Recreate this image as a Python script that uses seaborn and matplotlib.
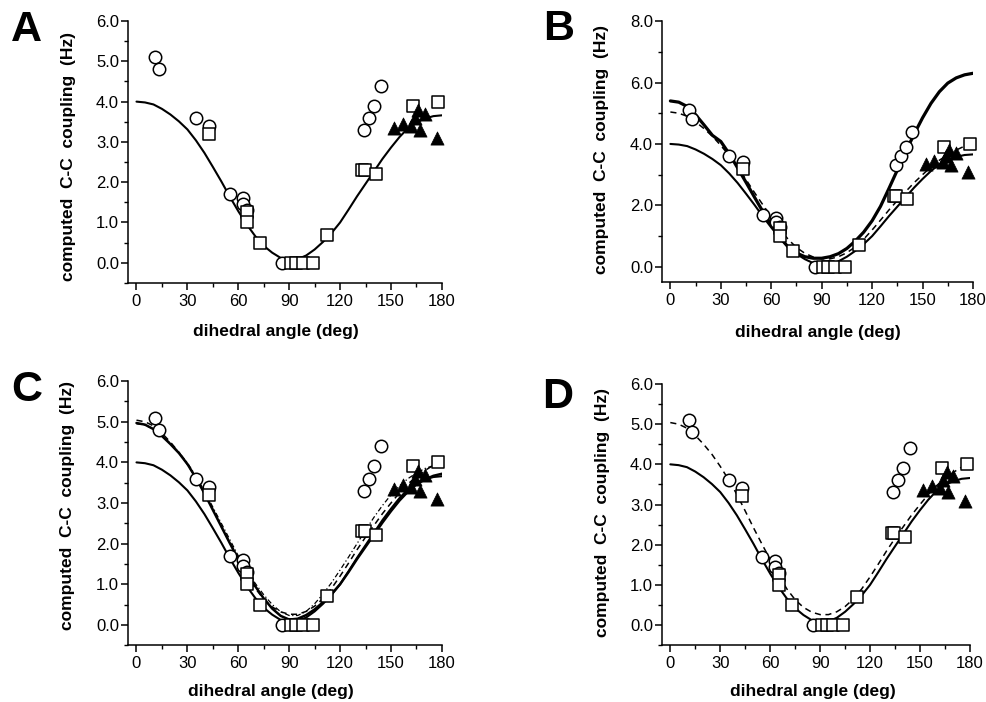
import matplotlib
matplotlib.use("Agg")
import matplotlib.pyplot as plt
import seaborn as sns
from matplotlib.ticker import MultipleLocator, FormatStrFormatter

# fitted curves, every 5 deg
angle_grid = list(range(0, 181, 5))
standard_fit = [4.00, 3.98, 3.93, 3.82, 3.68, 3.51, 3.31, 3.04, 2.73, 2.38, 2.02, 1.64, 1.28, 0.95,
                0.66, 0.42, 0.25, 0.12, 0.07, 0.09, 0.18, 0.33, 0.52, 0.74, 1.00, 1.32, 1.65, 1.96,
                2.27, 2.58, 2.86, 3.12, 3.34, 3.49, 3.58, 3.64, 3.66]
dashed_fit = [5.04, 5.00, 4.90, 4.72, 4.50, 4.25, 3.95, 3.62, 3.25, 2.84, 2.42, 2.02, 1.63, 1.25,
              0.90, 0.63, 0.44, 0.32, 0.26, 0.26, 0.33, 0.46, 0.65, 0.90, 1.20, 1.52, 1.85, 2.16,
              2.45, 2.74, 3.00, 3.25, 3.47, 3.65, 3.80, 3.93, 4.02]
thick_fit_b = [5.40, 5.36, 5.22, 4.95, 4.62, 4.28, 4.08, 3.68, 3.22, 2.75, 2.27, 1.80, 1.36, 0.96,
               0.65, 0.45, 0.33, 0.28, 0.28, 0.33, 0.43, 0.60, 0.84, 1.13, 1.50, 1.97, 2.55, 3.15,
               3.75, 4.32, 4.85, 5.32, 5.70, 5.98, 6.15, 6.25, 6.30]
solid_fit_c = [4.97, 4.93, 4.82, 4.65, 4.45, 4.23, 3.96, 3.62, 3.24, 2.83, 2.42, 2.01, 1.62, 1.28,
               0.95, 0.65, 0.40, 0.22, 0.13, 0.15, 0.24, 0.38, 0.56, 0.76, 1.00, 1.30, 1.62, 1.92,
               2.22, 2.52, 2.80, 3.06, 3.28, 3.46, 3.58, 3.67, 3.72]
dotted_fit_c = [4.95, 4.92, 4.82, 4.66, 4.47, 4.25, 3.99, 3.66, 3.30, 2.90, 2.50, 2.10, 1.70, 1.35,
                1.02, 0.74, 0.50, 0.32, 0.23, 0.23, 0.33, 0.52, 0.76, 1.04, 1.35, 1.67, 2.00, 2.33,
                2.65, 2.94, 3.20, 3.42, 3.60, 3.74, 3.85, 3.92, 3.95]

# computed couplings
circle_angle = [11, 13, 35, 43, 55, 63, 63, 65, 86, 134, 137, 140, 144]
circle_j = [5.1, 4.8, 3.6, 3.4, 1.7, 1.6, 1.45, 1.3, 0.0, 3.3, 3.6, 3.9, 4.4]
square_angle = [43, 65, 65, 73, 91, 94, 98, 104, 112, 133, 134.5, 141, 163, 178]
square_j = [3.2, 1.25, 1.0, 0.5, 0.0, 0.0, 0.0, 0.0, 0.7, 2.3, 2.3, 2.2, 3.9, 4.0]
triangle_angle = [152, 157, 162, 164, 166, 167, 170, 177]
triangle_j = [3.35, 3.45, 3.4, 3.6, 3.8, 3.3, 3.7, 3.1]

sns.set_style("ticks")
plt.rcParams['font.family'] = ['Liberation Sans', 'DejaVu Sans']
plt.rcParams.update({'axes.linewidth': 1.1, 'axes.edgecolor': 'black', 'text.color': 'black',
                     'axes.labelcolor': 'black', 'xtick.color': 'black', 'ytick.color': 'black'})

fig = plt.figure(figsize=(9.87, 7.02), dpi=100)

panels = {
    'A': dict(rect=[0.1297, 0.597, 0.318, 0.373], ymax=6, ystep=1,
              xl=(0.47, -0.156), yl=(-0.166, 0.483), letter=(0.027, 0.957)),
    'B': dict(rect=[0.6707, 0.598, 0.3151, 0.372], ymax=8, ystep=2,
              xl=(0.50, -0.165), yl=(-0.17, 0.51), letter=(0.566, 0.959)),
    'C': dict(rect=[0.1297, 0.081, 0.318, 0.376], ymax=6, ystep=1,
              xl=(0.455, -0.147), yl=(-0.169, 0.53), letter=(0.027, 0.444)),
    'D': dict(rect=[0.6707, 0.081, 0.312, 0.372], ymax=6, ystep=1,
              xl=(0.489, -0.149), yl=(-0.17, 0.506), letter=(0.565, 0.434)),
}

curves = {
    'A': [(standard_fit, '-', 1.5)],
    'B': [(standard_fit, '-', 1.5), (dashed_fit, (0, (4, 3)), 1.1), (thick_fit_b, '-', 2.3)],
    'C': [(standard_fit, '-', 1.5), (dotted_fit_c, (0, (4, 2, 1, 2)), 0.9),
          (dashed_fit, (0, (4, 3)), 1.1), (solid_fit_c, '-', 1.8)],
    'D': [(standard_fit, '-', 1.5), (dashed_fit, (0, (4, 3)), 1.1)],
}

for name, p in panels.items():
    ax = fig.add_axes(p['rect'])
    for vals, ls, lw in curves[name]:
        sns.lineplot(x=angle_grid, y=vals, ax=ax, color='black', linestyle=ls, linewidth=lw)
    sns.scatterplot(x=circle_angle, y=circle_j, ax=ax, marker='o', s=80, color='white',
                    edgecolor='black', linewidth=1.1, zorder=3, clip_on=False)
    sns.scatterplot(x=square_angle, y=square_j, ax=ax, marker='s', s=75, color='white',
                    edgecolor='black', linewidth=1.1, zorder=4, clip_on=False)
    sns.scatterplot(x=triangle_angle, y=triangle_j, ax=ax, marker='^', s=90, color='black',
                    edgecolor='black', linewidth=0.5, zorder=5, clip_on=False)

    ax.set_xlim(-5, 180)
    ax.set_ylim(-0.5, p['ymax'])
    ax.xaxis.set_major_locator(MultipleLocator(30))
    ax.xaxis.set_minor_locator(MultipleLocator(15))
    ax.yaxis.set_major_locator(MultipleLocator(p['ystep']))
    ax.yaxis.set_minor_locator(MultipleLocator(p['ystep'] / 2))
    ax.yaxis.set_major_formatter(FormatStrFormatter('%.1f'))
    ax.set_xticks(range(0, 181, 30))
    ax.set_yticks([v * p['ystep'] for v in range(int(p['ymax'] / p['ystep']) + 1)])
    ax.tick_params(which='major', length=5, width=1.1, labelsize=12)
    ax.tick_params(axis='y', which='major', pad=1.5)
    ax.tick_params(axis='x', which='major', pad=3)
    ax.tick_params(which='minor', length=3, width=1.0)
    sns.despine(ax=ax)

    ax.set_xlabel('dihedral angle (deg)', fontsize=12.5, fontweight='bold')
    ax.set_ylabel('computed  C-C  coupling  (Hz)', fontsize=12.5, fontweight='bold')
    ax.xaxis.set_label_coords(*p['xl'])
    ax.yaxis.set_label_coords(*p['yl'])

    fig.text(p['letter'][0], p['letter'][1], name, fontsize=31, fontweight='bold',
             ha='center', va='center')

fig.savefig('out.png', dpi=100)
plt.close(fig)
